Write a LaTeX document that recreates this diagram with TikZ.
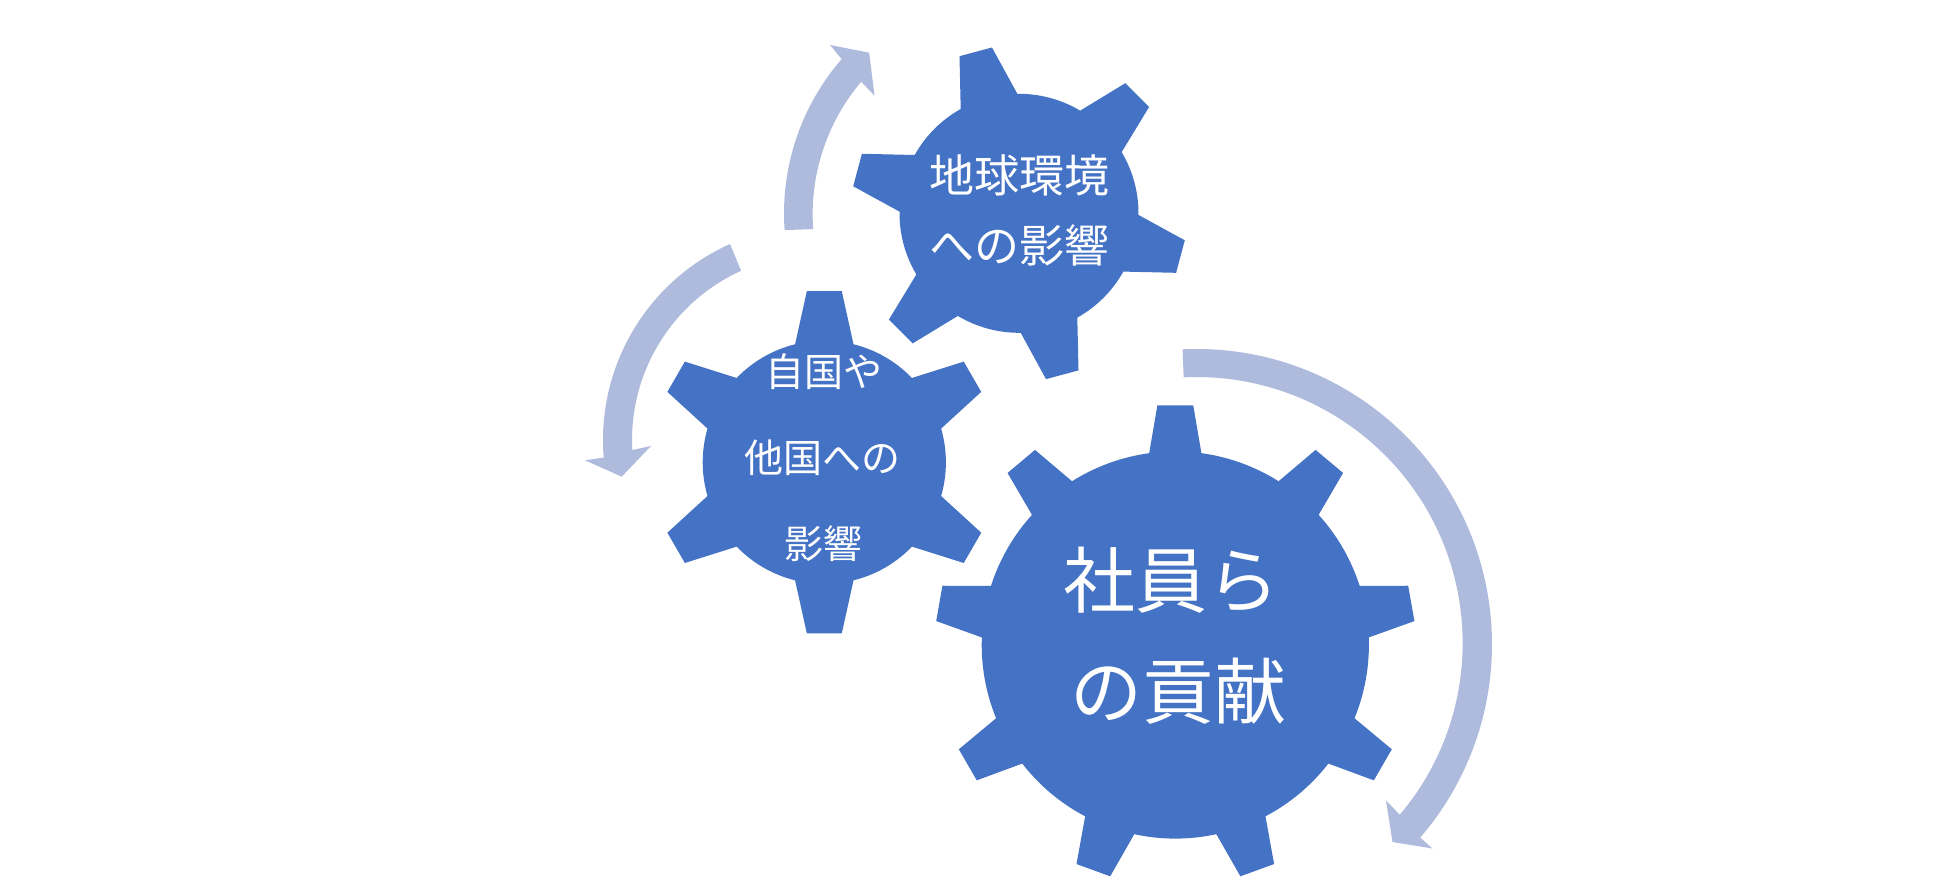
\documentclass[tikz,border=0pt]{standalone}
\usepackage{fontspec}
\setmainfont{Noto Sans CJK JP}
\tikzset{
  gearfill/.style={fill=gearblue,draw=none},
  arrowfill/.style={fill=arrowblue,draw=none},
  geartext/.style={text=white,inner sep=0pt,anchor=center},
}
\definecolor{gearblue}{HTML}{4472C4}
\definecolor{arrowblue}{HTML}{AFBBDD}
% #1 cx, #2 cy, #3 teeth, #4 first tooth angle, #5 tip radius, #6 tip half angle, #7 body radius, #8 base half angle
\newcommand{\gearshape}[8]{%
  \pgfmathsetmacro{\gstep}{360/#3}%
  \pgfmathtruncatemacro{\glast}{#3-1}%
  \begin{scope}[shift={(#1,#2)}]
  \fill[gearfill] ({#4-#8}:#7)
    \foreach \i in {0,...,\glast}{
      -- ({#4+\i*\gstep-#6}:#5) -- ({#4+\i*\gstep+#6}:#5) -- ({#4+\i*\gstep+#8}:#7)
      arc[start angle={#4+\i*\gstep+#8},end angle={#4+(\i+1)*\gstep-#8},radius=#7]
    } -- cycle;
  \end{scope}%
}
\begin{document}
\begin{tikzpicture}[x=0.5pt,y=-0.5pt]
\useasboundingbox (0,0) rectangle (1949,888);
% gears
\gearshape{1019}{213.3}{6}{-105}{168}{5.75}{119.5}{14.2}
\gearshape{824.3}{462.3}{6}{-90}{172}{5.83}{121.6}{13.9}
\gearshape{1175.3}{645}{9}{-90}{240.3}{4.28}{193.6}{7.76}
% circular arrows
\fill[arrowfill] (1019,213.3) ++(175.9:235) arc[start angle=175.9,end angle=221,radius=235]
  -- (830,45) -- (869.2,52.7) -- (874.5,95.7) -- (861.2,81.7)
  arc[start angle=220.2,end angle=175.9,radius=205.6] -- cycle;
\fill[arrowfill] (817.7,440) ++(245.9:214.7) arc[start angle=245.9,end angle=175.3,radius=214.7]
  -- (585,460.3) -- (621.7,476.7) -- (651,446) -- (632.3,450)
  arc[start angle=176.9,end angle=245.6,radius=185.8] -- cycle;
\fill[arrowfill] (1196.5,644.5) ++(-92.7:295.5) arc[start angle=-92.7,end angle=40.8,radius=295.5]
  -- (1432.5,848.5) -- (1392.5,842) -- (1386,800.5) -- (1399.8,814.7)
  arc[start angle=40.2,end angle=-92.8,radius=266] -- cycle;
% labels
\node[geartext,font=\fontsize{22.5pt}{27pt}\selectfont] (e1) at (1019,175) {地球環境};
\node[geartext,font=\fontsize{22.5pt}{27pt}\selectfont] (e2) at (1019,245) {への影響};
\node[geartext,font=\fontsize{19.5pt}{24pt}\selectfont] (n1) at (824,372) {自国や};
\node[geartext,font=\fontsize{19.5pt}{24pt}\selectfont] (n2) at (822,458) {他国への};
\node[geartext,font=\fontsize{19.5pt}{24pt}\selectfont] (n3) at (823,544) {影響};
\node[geartext,font=\fontsize{36pt}{42pt}\selectfont] (s1) at (1171,580) {社員ら};
\node[geartext,font=\fontsize{36pt}{42pt}\selectfont] (s2) at (1178,691) {の貢献};
\end{tikzpicture}
\end{document}
